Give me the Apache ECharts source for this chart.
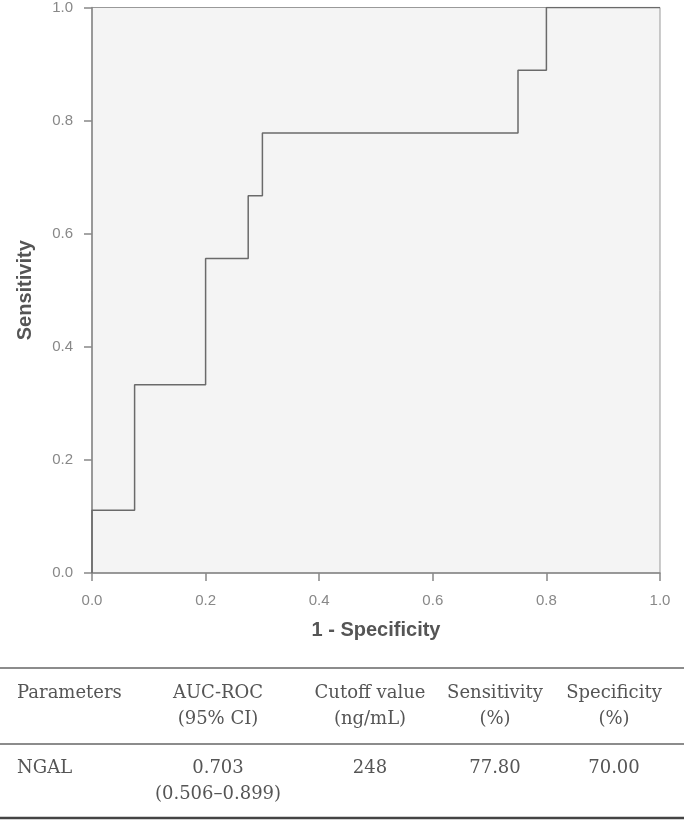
<!DOCTYPE html>
<html>
<head>
<meta charset="utf-8">
<script src="https://cdn.jsdelivr.net/npm/echarts@6/dist/echarts.min.js"></script>
<style>
html,body{margin:0;padding:0;background:#fff;}
#chart{width:684px;height:820px;}
</style>
</head>
<body>
<div id="chart"></div>
<script>
// ROC curve points (1 - Specificity, Sensitivity)
const fpr = [0, 0, 0.075, 0.2, 0.275, 0.3, 0.75, 0.8, 1.0];
const tpr = [0, 0.111, 0.333, 0.556, 0.667, 0.778, 0.889, 1.0, 1.0];
const xTicks = [0, 0.2, 0.4, 0.6, 0.8, 1.0];
const yTicks = [0, 0.2, 0.4, 0.6, 0.8, 1.0];

// Table
const headerLine1 = ['Parameters', 'AUC-ROC', 'Cutoff value', 'Sensitivity', 'Specificity'];
const headerLine2 = ['', '(95% CI)', '(ng/mL)', '(%)', '(%)'];
const rowLine1 = ['NGAL', '0.703', '248', '77.80', '70.00'];
const rowLine2 = ['', '(0.506\u20130.899)', '', '', ''];

const colX = [17, 218, 370, 495, 614];
const colAlign = ['left', 'center', 'center', 'center', 'center'];

const chart = echarts.init(document.getElementById('chart'), null, {renderer: 'canvas'});

const graphics = [];
function addText(x, y, text, align) {
  if (!text) return;
  graphics.push({type: 'text', x: x, y: y, style: {text: text, x: 0, y: 0, align: align, verticalAlign: 'middle', textAlign: align, textVerticalAlign: 'middle', fontSize: 18, fontFamily: 'DejaVu Serif', fill: '#555'}});
}
for (let i = 0; i < 5; i++) {
  addText(colX[i], 693, headerLine1[i], colAlign[i]);
  addText(colX[i], 719, headerLine2[i], colAlign[i]);
  addText(colX[i], 768, rowLine1[i], colAlign[i]);
  addText(colX[i], 794, rowLine2[i], colAlign[i]);
}
graphics.push({type: 'line', shape: {x1: 0, y1: 668, x2: 684, y2: 668}, style: {stroke: '#666', lineWidth: 1.5}});
graphics.push({type: 'line', shape: {x1: 0, y1: 744, x2: 684, y2: 744}, style: {stroke: '#666', lineWidth: 1.5}});
graphics.push({type: 'line', shape: {x1: 0, y1: 818, x2: 684, y2: 818}, style: {stroke: '#444', lineWidth: 2.5}});

const axisFont = '"Liberation Sans", Arial, sans-serif';
const option = {
  animation: false,
  backgroundColor: '#fff',
  grid: {left: 92, top: 5, width: 568, height: 568, show: true, backgroundColor: '#f4f4f4', borderColor: '#999', borderWidth: 1},
  xAxis: {
    type: 'value', min: 0, max: 1, interval: 0.2,
    name: '1 - Specificity', nameLocation: 'middle', nameGap: 47,
    nameTextStyle: {fontFamily: axisFont, fontWeight: 'bold', fontSize: 20, color: '#555'},
    axisLine: {show: true, onZero: false, lineStyle: {color: '#888', width: 1.5}},
    axisTick: {show: true, length: 8, lineStyle: {color: '#888', width: 1.5}},
    axisLabel: {color: '#888', fontSize: 15, margin: 20, fontFamily: axisFont, formatter: v => v.toFixed(1)},
    splitLine: {show: false}
  },
  yAxis: {
    type: 'value', min: 0, max: 1, interval: 0.2,
    name: 'Sensitivity', nameLocation: 'middle', nameGap: 57, nameRotate: 90,
    nameTextStyle: {fontFamily: axisFont, fontWeight: 'bold', fontSize: 20, color: '#555'},
    axisLine: {show: true, onZero: false, lineStyle: {color: '#888', width: 1.5}},
    axisTick: {show: true, length: 8, lineStyle: {color: '#888', width: 1.5}},
    axisLabel: {color: '#888', fontSize: 15, margin: 19, fontFamily: axisFont, formatter: v => v.toFixed(1)},
    splitLine: {show: false}
  },
  series: [{
    type: 'line',
    step: 'end',
    data: fpr.map((x, i) => [x, tpr[i]]),
    showSymbol: false,
    symbol: 'none',
    lineStyle: {color: '#6a6a6a', width: 1.5}
  }],
  graphic: graphics
};
chart.setOption(option);
</script>
</body>
</html>
